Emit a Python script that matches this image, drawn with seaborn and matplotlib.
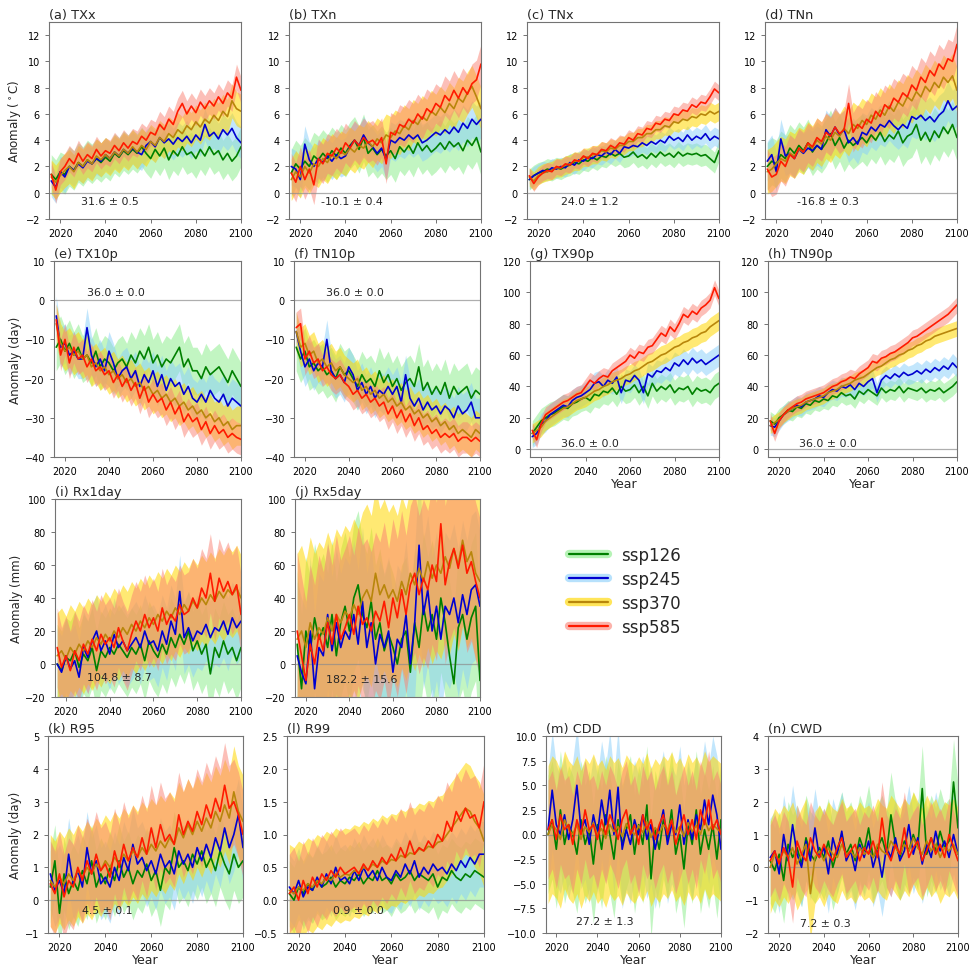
import matplotlib
matplotlib.use("Agg")
import matplotlib.pyplot as plt
from matplotlib.lines import Line2D
import numpy as np
import pandas as pd
import seaborn as sns

YEARS = list(range(2016, 2101, 2))
SCENARIOS = ["ssp126", "ssp245", "ssp370", "ssp585"]
LINE_COLORS = ["#008000", "#0000d0", "#b8860b", "#ff1a00"]
BAND_COLORS = ["#90ee90", "#87cefa", "#ffd700", "#fa8072"]
BAND_ALPHA = [0.55, 0.5, 0.55, 0.5]

# (a) TXx
TXX_126 = [1.4, 1.0, 1.6, 1.4, 2.0, 1.7, 2.3, 2.0, 2.5, 2.2, 2.6, 2.3, 2.7, 2.4, 3.0, 2.7, 3.2, 2.9, 3.3, 3.0, 3.5, 3.0,
           2.6, 3.3, 2.8, 3.4, 2.5, 3.2, 2.8, 3.5, 2.9, 3.1, 2.6, 3.3, 2.8, 3.5, 2.9, 3.2, 2.5, 3.0, 2.4, 2.8, 3.5]
TXX_245 = [0.9, 0.4, 1.6, 1.2, 2.0, 1.7, 2.2, 1.9, 2.4, 2.2, 2.6, 2.4, 2.9, 2.6, 3.1, 2.8, 3.3, 3.0, 3.4, 3.1, 2.9, 3.6,
           3.9, 3.5, 4.2, 3.8, 4.1, 3.7, 4.2, 3.9, 4.3, 3.8, 4.4, 4.0, 5.2, 4.3, 4.6, 4.1, 4.8, 4.4, 4.9, 4.2, 3.8]
TXX_370 = [1.2, 0.8, 1.3, 1.7, 2.0, 1.6, 2.3, 2.0, 2.5, 2.2, 2.8, 2.5, 2.9, 2.6, 3.1, 2.8, 3.3, 3.0, 3.5, 3.1, 3.6, 3.3,
           3.9, 3.6, 4.2, 3.9, 4.5, 4.2, 4.8, 4.5, 5.1, 4.8, 5.4, 5.0, 5.6, 5.3, 5.9, 5.5, 6.2, 5.8, 7.0, 6.4, 6.2]
TXX_585 = [1.4, 0.2, 1.6, 2.0, 2.6, 2.2, 3.0, 2.4, 2.9, 2.6, 3.3, 2.8, 3.2, 3.0, 3.6, 3.2, 3.8, 3.4, 3.9, 3.7, 4.3, 4.0,
           4.6, 4.4, 5.2, 4.8, 5.6, 5.2, 6.2, 6.8, 6.0, 6.6, 6.1, 6.9, 6.4, 7.0, 6.6, 7.3, 6.8, 7.6, 7.2, 8.8, 7.8]
TXX_SPREAD = [1.5, 1.2, 1.3, 1.0]

# (b) TXn
TXN_126 = [1.5, 2.2, 1.8, 2.4, 2.0, 2.8, 2.5, 3.0, 2.6, 3.2, 2.8, 3.4, 3.0, 3.6, 4.0, 3.3, 4.2, 3.0, 3.4, 2.9, 3.3, 2.8,
           3.2, 2.6, 3.5, 3.1, 3.6, 3.0, 3.8, 3.2, 3.6, 3.1, 3.4, 3.8, 3.3, 3.9, 3.5, 3.8, 3.2, 4.0, 3.6, 4.2, 3.1]
TXN_245 = [2.0, 1.8, 1.0, 3.7, 2.5, 2.0, 2.6, 2.3, 2.8, 2.4, 2.9, 2.6, 2.8, 3.5, 4.0, 3.6, 4.4, 3.8, 3.5, 3.0, 3.4, 2.5,
           4.0, 3.8, 4.2, 4.0, 4.4, 4.1, 4.4, 3.8, 4.0, 4.3, 4.6, 4.4, 4.8, 4.5, 5.0, 4.6, 5.3, 4.9, 5.6, 5.2, 5.6]
TXN_370 = [1.0, 1.6, 1.2, 2.0, 1.5, 2.2, 2.0, 2.6, 2.3, 2.9, 2.6, 3.1, 2.9, 3.4, 3.1, 3.6, 3.4, 3.9, 3.5, 4.1, 3.8, 4.4,
           4.2, 4.7, 4.5, 5.1, 4.8, 5.5, 5.2, 5.8, 5.5, 6.2, 5.9, 6.5, 6.1, 6.8, 6.4, 7.2, 6.9, 7.6, 8.1, 7.3, 6.4]
TXN_585 = [1.5, 0.8, 2.0, 1.0, 1.8, 0.6, 2.6, 2.2, 3.0, 2.8, 3.4, 3.0, 3.8, 3.4, 4.0, 3.6, 4.2, 3.8, 4.0, 3.6, 4.2, 2.2,
           4.6, 4.4, 5.2, 5.0, 5.6, 5.3, 6.0, 5.6, 6.4, 6.1, 6.8, 6.5, 7.4, 7.0, 7.8, 7.2, 8.0, 7.5, 8.3, 8.6, 9.8]
TXN_SPREAD = [1.8, 1.4, 1.6, 1.5]

# (c) TNx
TNX_126 = [1.0, 1.3, 1.5, 1.6, 1.8, 1.7, 1.9, 1.8, 2.0, 2.1, 2.3, 2.2, 2.5, 2.4, 2.7, 2.5, 2.8, 2.7, 3.0, 2.8, 3.0, 2.7,
           2.8, 3.1, 2.7, 2.9, 2.6, 3.0, 2.7, 3.1, 2.8, 3.0, 2.7, 3.1, 2.8, 3.0, 2.9, 3.0, 2.8, 2.9, 2.6, 2.3, 3.2]
TNX_245 = [1.0, 1.3, 1.5, 1.7, 1.6, 1.9, 1.8, 2.0, 1.9, 2.3, 2.1, 2.5, 2.4, 2.7, 2.6, 2.9, 2.8, 3.1, 2.9, 3.3, 3.0, 3.5,
           3.4, 3.6, 3.5, 3.8, 3.6, 3.9, 3.7, 4.0, 3.8, 4.3, 4.0, 4.2, 3.9, 4.4, 4.0, 4.3, 4.1, 4.5, 4.0, 4.3, 4.1]
TNX_370 = [1.2, 0.9, 1.3, 1.5, 1.6, 1.7, 1.9, 1.9, 2.1, 2.2, 2.4, 2.4, 2.7, 2.7, 2.9, 2.9, 3.2, 3.1, 3.4, 3.3, 3.6, 3.6,
           3.9, 3.9, 4.2, 4.2, 4.5, 4.5, 4.8, 4.8, 5.1, 5.0, 5.4, 5.3, 5.6, 5.5, 5.8, 5.7, 6.0, 5.9, 6.2, 6.0, 6.2]
TNX_585 = [1.3, 0.7, 1.2, 1.5, 1.7, 1.6, 2.0, 1.9, 2.2, 2.1, 2.5, 2.4, 2.8, 2.6, 3.0, 2.9, 3.3, 3.2, 3.6, 3.4, 3.8, 3.7,
           4.2, 4.0, 4.5, 4.4, 4.9, 4.8, 5.3, 5.2, 5.6, 5.5, 6.0, 5.9, 6.3, 6.2, 6.7, 6.5, 6.9, 6.8, 7.3, 7.9, 7.6]
TNX_SPREAD = [0.8, 0.7, 0.7, 0.6]

# (d) TNn
TNN_126 = [2.0, 2.4, 2.2, 2.9, 2.6, 3.4, 3.0, 3.6, 3.2, 3.8, 3.1, 3.6, 3.3, 3.8, 4.5, 3.6, 4.2, 3.4, 4.0, 3.6, 3.9, 4.2,
           3.8, 4.4, 4.0, 4.6, 3.9, 4.4, 4.1, 4.7, 3.8, 4.3, 4.5, 5.2, 4.0, 4.6, 3.9, 4.7, 4.2, 5.0, 4.5, 5.2, 4.2]
TNN_245 = [2.4, 2.9, 1.6, 4.1, 2.8, 3.0, 2.6, 3.3, 3.0, 3.4, 3.2, 3.6, 3.3, 4.8, 4.3, 5.0, 4.4, 4.8, 3.8, 4.2, 3.7, 4.6,
           4.4, 5.0, 4.7, 5.2, 5.0, 5.5, 5.1, 4.8, 5.2, 4.9, 5.8, 5.6, 5.9, 5.5, 5.8, 5.4, 5.9, 6.2, 7.0, 6.3, 6.6]
TNN_370 = [1.6, 1.8, 2.2, 2.6, 2.4, 3.0, 2.8, 3.3, 3.1, 3.7, 3.4, 4.0, 3.7, 4.3, 4.0, 4.6, 4.3, 4.9, 4.5, 5.2, 4.9, 5.5,
           5.2, 5.9, 5.6, 6.3, 5.9, 6.6, 6.2, 6.9, 6.6, 7.3, 7.0, 7.7, 7.3, 8.1, 7.7, 8.4, 8.0, 8.8, 8.4, 8.9, 7.8]
TNN_585 = [1.8, 1.2, 1.4, 2.4, 2.0, 2.9, 2.6, 3.4, 3.1, 3.8, 3.5, 4.2, 3.9, 4.6, 4.3, 5.0, 4.5, 4.8, 6.8, 4.6, 5.2, 4.9,
           5.6, 5.3, 6.2, 5.8, 6.7, 6.4, 7.2, 6.9, 7.6, 7.3, 8.2, 7.8, 8.8, 8.4, 9.3, 8.9, 9.8, 9.4, 10.2, 10.0, 11.3]
TNN_SPREAD = [1.8, 1.5, 1.7, 1.5]

# (e) TX10p
TX10P_126 = [-12, -10, -13, -11, -14, -12, -15, -14, -16, -13, -17, -15, -16, -18, -16, -15, -17, -14, -16, -13, -15, -12,
             -16, -14, -17, -15, -16, -14, -12, -17, -15, -18, -18, -20, -17, -19, -18, -17, -19, -21, -18, -20, -22]
TX10P_245 = [-4, -12, -11, -14, -13, -15, -15, -7, -14, -17, -15, -18, -13, -16, -20, -18, -17, -20, -18, -22, -19, -21,
             -18, -22, -19, -23, -20, -22, -21, -24, -22, -25, -26, -24, -26, -23, -25, -26, -24, -27, -25, -26, -27]
TX10P_370 = [-6, -11, -13, -12, -14, -13, -15, -14, -17, -16, -18, -17, -19, -18, -20, -19, -21, -20, -22, -21, -23, -22,
             -24, -23, -25, -24, -26, -25, -27, -26, -28, -27, -29, -28, -30, -29, -31, -30, -32, -31, -33, -32, -32]
TX10P_585 = [-5, -14, -10, -16, -12, -15, -14, -17, -15, -18, -17, -19, -18, -21, -19, -22, -20, -23, -21, -25, -22, -26,
             -24, -26, -25, -28, -26, -29, -27, -31, -29, -31, -30, -33, -31, -34, -32, -34, -33, -35, -34, -35, -35.5]
TX10P_SPREAD = [6, 5, 5, 4]

# (f) TN10p
TN10P_126 = [-12, -15, -13, -17, -16, -18, -17, -19, -18, -20, -17, -19, -18, -20, -22, -19, -21, -20, -22, -18, -21, -19,
             -22, -20, -23, -21, -20, -22, -17, -23, -21, -24, -22, -24, -21, -25, -22, -24, -23, -22, -25, -23, -24]
TN10P_245 = [-8, -13, -17, -15, -18, -16, -17, -10, -18, -20, -19, -21, -17, -19, -23, -21, -24, -22, -25, -23, -24, -22,
             -24, -22, -26, -19, -25, -27, -25, -28, -26, -28, -27, -29, -27, -28, -30, -27, -29, -28, -26, -30, -30]
TN10P_370 = [-8, -12, -11, -14, -13, -16, -15, -17, -16, -18, -17, -19, -20, -21, -20, -23, -22, -24, -23, -25, -24, -26,
             -25, -27, -26, -28, -27, -29, -28, -30, -29, -31, -30, -32, -31, -33, -32, -34, -33, -34, -35, -33, -34]
TN10P_585 = [-7, -6, -15, -13, -16, -15, -18, -17, -19, -20, -19, -21, -22, -24, -23, -25, -24, -26, -25, -27, -26, -29,
             -27, -30, -28, -31, -29, -32, -30, -33, -32, -34, -33, -35, -34, -35, -34, -36, -35, -35, -36, -35, -36]
TN10P_SPREAD = [6, 5, 5, 4]

# (g) TX90p
TX90P_126 = [10, 14, 18, 20, 22, 23, 25, 27, 26, 29, 30, 32, 33, 31, 35, 34, 37, 36, 39, 35, 40, 37,
             38, 41, 36, 40, 34, 42, 37, 40, 38, 41, 36, 39, 38, 40, 35, 39, 37, 38, 36, 40, 42]
TX90P_245 = [8, 10, 16, 18, 22, 24, 26, 28, 27, 31, 33, 34, 36, 38, 42, 43, 40, 44, 42, 46, 36, 44,
             43, 47, 44, 36, 48, 46, 50, 49, 52, 50, 55, 53, 57, 54, 58, 55, 57, 54, 56, 58, 60]
TX90P_370 = [10, 12, 14, 18, 20, 22, 24, 26, 27, 29, 31, 32, 33, 35, 37, 38, 40, 41, 43, 44, 45, 47,
             48, 50, 51, 53, 55, 56, 58, 60, 61, 63, 65, 66, 68, 69, 71, 72, 74, 75, 78, 80, 82]
TX90P_585 = [12, 6, 16, 22, 24, 26, 28, 30, 31, 33, 35, 36, 40, 44, 42, 45, 47, 46, 50, 52, 54, 56,
             60, 58, 62, 61, 65, 66, 70, 74, 72, 78, 75, 80, 86, 84, 88, 86, 90, 92, 95, 103, 96]
TX90P_SPREAD = [8, 7, 6, 5]

# (h) TN90p
TN90P_126 = [18, 16, 20, 22, 25, 24, 27, 26, 29, 28, 31, 30, 32, 31, 34, 33, 36, 34, 35, 32, 37, 35,
             38, 36, 34, 39, 36, 38, 37, 40, 36, 39, 38, 37, 39, 36, 38, 37, 39, 36, 38, 40, 43]
TN90P_245 = [15, 14, 18, 22, 24, 26, 28, 27, 30, 31, 32, 34, 33, 36, 38, 37, 40, 39, 41, 38, 42, 40,
             43, 45, 36, 44, 47, 45, 48, 46, 49, 47, 48, 50, 48, 51, 49, 52, 50, 53, 51, 55, 52]
TN90P_370 = [15, 17, 19, 22, 24, 26, 27, 28, 30, 31, 32, 33, 34, 36, 37, 38, 40, 41, 42, 44, 45, 46,
             48, 50, 52, 53, 55, 57, 58, 60, 61, 63, 64, 66, 67, 69, 70, 72, 73, 74, 75, 76, 77]
TN90P_585 = [18, 10, 18, 22, 25, 27, 29, 30, 32, 33, 34, 35, 36, 38, 40, 41, 43, 44, 46, 45, 48, 50,
             52, 56, 55, 58, 59, 61, 62, 64, 66, 68, 71, 72, 74, 76, 78, 80, 82, 84, 86, 89, 92]
TN90P_SPREAD = [6, 6, 5, 5]

# (i) Rx1day
RX1_126 = [0, -4, 4, 2, 8, -2, 6, 2, 10, -4, 8, 4, 10, 6, 12, 8, 4, 10, 6, 12, 2, 14,
           8, 4, 12, 6, 16, 10, 18, 12, 20, 8, 14, 6, 12, -6, 10, 4, 14, 6, 10, 2, 10]
RX1_245 = [0, -5, 5, -3, 2, -8, 10, 4, 14, 20, 8, 14, 6, 18, 10, 14, 8, 12, 16, 10, 20, 12,
           14, 8, 20, 12, 26, 18, 44, 16, 22, 14, 20, 18, 24, 16, 22, 20, 26, 18, 28, 22, 26]
RX1_370 = [5, 8, 3, 10, 6, 12, 8, 14, 10, 16, 12, 18, 14, 20, 16, 22, 18, 24, 20, 26, 22, 28,
           24, 30, 26, 32, 28, 34, 30, 36, 32, 38, 34, 40, 36, 42, 38, 44, 40, 45, 42, 46, 40]
RX1_585 = [10, -2, 5, -4, 8, 2, 12, 6, 15, 8, 18, 12, 16, 10, 22, 14, 8, 18, 26, 20, 30, 22,
           28, 20, 34, 24, 30, 26, 36, 30, 32, 40, 34, 46, 40, 55, 38, 52, 44, 50, 42, 48, 30]
RX1_SPREAD = [24, 22, 26, 24]

# (j) Rx5day
RX5_126 = [12, -15, 20, 8, 28, 15, 22, 10, 30, 5, 25, 35, 20, 40, 48, 30, 22, 38, 15, 25, 8, 18,
           10, 0, 15, 20, -5, 25, 10, 35, 20, 30, 15, 40, 25, 5, -12, 22, 30, 15, 28, 35, -10]
RX5_245 = [5, -5, -12, 20, -15, 10, 5, 30, 8, 25, 10, 20, 15, 30, 12, 38, 10, 25, 0, 18, 10, 20,
           -5, 15, 10, 30, 0, 25, 72, 30, 45, 20, 35, 15, 35, 30, 40, 25, 42, 30, 45, 48, 35]
RX5_370 = [15, 20, 10, 25, 15, 22, 18, 28, 20, 30, 25, 32, 28, 36, 30, 40, 45, 38, 55, 42, 48, 40,
           45, 38, 50, 42, 55, 48, 58, 50, 62, 52, 60, 55, 65, 58, 70, 60, 75, 62, 68, 55, 50]
RX5_585 = [20, 5, -10, 12, 0, 18, 8, 25, 12, 30, 15, 22, 30, 18, 35, 24, 28, 20, 32, 26, 38, 22,
           40, 28, 45, 30, 48, 55, 42, 52, 45, 60, 50, 85, 48, 62, 70, 58, 72, 55, 62, 50, 40]
RX5_SPREAD = [45, 45, 52, 48]

# (k) R95
R95_126 = [0.4, 1.2, -0.4, 0.8, 0.2, 0.6, 0.3, 0.9, 0.5, 1.2, 0.4, 0.8, 0.5, 1.0, 0.6, 1.2, 0.7, 1.0, 0.5, 0.9, 0.7, 1.1,
           0.6, 0.9, 0.3, 1.0, 0.8, 1.6, 1.0, 1.2, 0.9, 1.4, 1.1, 1.5, 1.0, 1.3, 0.9, 1.5, 1.1, 0.8, 1.4, 1.0, 1.2]
R95_245 = [0.8, 0.3, 0.6, 0.2, 1.4, 0.5, 0.9, 0.4, 1.6, 0.8, 1.2, 0.5, 0.7, 0.4, 1.0, 0.6, 1.3, 0.9, 1.7, 1.1, 1.3, 0.9,
           1.2, 0.8, 1.4, 1.0, 1.2, 0.8, 1.5, 1.1, 1.4, 1.0, 1.6, 1.2, 1.7, 1.3, 1.9, 1.5, 2.2, 1.6, 2.0, 2.6, 1.6]
R95_370 = [0.6, 0.4, 0.7, 0.5, 0.8, 0.6, 0.9, 0.7, 1.0, 0.8, 1.1, 0.9, 1.2, 1.0, 1.3, 1.1, 1.4, 1.2, 1.5, 1.3, 1.6, 1.4,
           1.7, 1.5, 1.8, 1.6, 1.9, 1.7, 2.2, 1.9, 2.3, 2.0, 2.4, 2.1, 2.5, 2.2, 2.7, 2.4, 2.9, 2.5, 3.3, 2.7, 2.4]
R95_585 = [0.5, 0.2, 0.8, 0.1, 0.6, 0.4, 1.0, 0.6, 1.2, 0.8, 1.4, 0.9, 1.1, 0.7, 1.5, 1.0, 1.7, 1.2, 1.6, 1.3, 1.9, 1.4,
           2.2, 1.6, 2.3, 1.8, 2.0, 1.7, 2.6, 2.0, 2.4, 2.1, 2.7, 2.3, 2.9, 2.5, 3.1, 2.7, 3.5, 2.8, 3.0, 2.6, 2.0]
R95_SPREAD = [1.1, 1.1, 1.4, 1.3]

# (l) R99
R99_126 = [0.1, 0.0, 0.2, 0.1, 0.25, 0.15, 0.3, 0.2, 0.25, 0.35, 0.2, 0.3, 0.25, 0.35, 0.3, 0.4, 0.25, 0.35, 0.3, 0.45,
           0.3, 0.35, 0.25, 0.4, 0.3, 0.35, 0.45, 0.3, 0.4, 0.35, 0.3, 0.4, 0.2, 0.35, 0.3, 0.45, 0.35, 0.3, 0.4, 0.35,
           0.45, 0.4, 0.35]
R99_245 = [0.2, 0.1, 0.3, 0.05, 0.2, 0.15, 0.35, 0.2, 0.4, 0.25, 0.5, 0.3, 0.35, 0.25, 0.45, 0.3, 0.5, 0.35, 0.45, 0.3,
           0.5, 0.35, 0.3, 0.45, 0.35, 0.55, 0.4, 0.6, 0.35, 0.5, 0.4, 0.55, 0.45, 0.5, 0.4, 0.55, 0.45, 0.6, 0.5, 0.65,
           0.55, 0.7, 0.7]
R99_370 = [0.15, 0.1, 0.2, 0.15, 0.25, 0.2, 0.3, 0.25, 0.35, 0.3, 0.4, 0.35, 0.4, 0.38, 0.45, 0.42, 0.5, 0.46, 0.55,
           0.5, 0.6, 0.55, 0.62, 0.6, 0.68, 0.65, 0.72, 0.7, 0.78, 0.75, 0.82, 0.8, 0.88, 0.9, 1.0, 1.1, 1.2, 1.3, 1.4,
           1.35, 1.2, 1.1, 0.9]
R99_585 = [0.1, 0.2, 0.0, 0.3, 0.1, 0.35, 0.2, 0.4, 0.3, 0.45, 0.35, 0.5, 0.4, 0.45, 0.5, 0.4, 0.55, 0.45, 0.6, 0.5,
           0.65, 0.55, 0.7, 0.6, 0.8, 0.65, 0.9, 0.7, 0.8, 0.75, 0.9, 0.8, 1.0, 0.9, 1.2, 1.05, 1.35, 1.2, 1.4, 1.25,
           1.3, 1.1, 1.5]
R99_SPREAD = [0.5, 0.5, 0.7, 0.6]

# (m) CDD
CDD_126 = [0.0, 1.5, -1.5, 2.5, -1.0, 1.0, 0.0, -2.0, 1.5, -1.0, 0.5, -3.0, 1.0, -1.5, 2.0, 0.0, -2.5, 1.5, -1.0, 0.5,
           2.0, -2.0, 1.0, -1.0, 3.0, -4.5, 0.5, -1.5, 1.5, -0.5, 2.5, -2.0, 0.0, -3.5, 1.0, -1.0, 2.5, -2.0, 0.5, -1.5,
           1.0, -2.5, 1.5]
CDD_245 = [0.5, 4.5, 1.0, 0.0, 2.0, -0.5, 1.5, 5.0, 0.5, 1.5, -1.0, 2.0, 0.0, 3.5, 1.0, 4.5, 0.0, 4.8, -1.5, 0.5, -1.0,
           1.5, 0.0, 2.0, -0.5, 1.0, -1.5, 0.5, 2.5, -1.0, 1.0, 0.0, 3.0, -1.0, 1.5, -0.5, 2.0, 0.5, 3.5, 1.0, 4.0, 2.0,
           -1.5]
CDD_370 = [0.0, 1.0, 0.5, -0.5, 1.5, 0.5, 0.0, 1.0, -0.5, 0.8, 0.2, 1.2, 0.0, 0.6, -0.4, 1.0, 0.3, 0.8, -0.2, 1.1, 0.4,
           0.0, 0.9, 0.2, 1.3, -0.3, 0.7, 0.1, 1.0, 0.5, 1.4, 0.2, 0.8, -0.2, 1.2, 0.3, 0.9, 0.0, 1.5, 0.4, 1.0, 0.6, 0.2]
CDD_585 = [0.5, 1.5, -0.5, 2.0, 0.5, 1.0, -1.0, 1.5, 0.0, 2.5, 0.5, 1.0, -0.5, 1.5, 0.0, 2.0, 1.0, -0.5, 1.5, 2.5, 0.0,
           1.0, -1.0, 2.0, 0.5, 1.5, -0.5, 1.0, 2.0, 0.0, 1.5, -1.0, 0.5, 2.0, 0.0, 1.5, -0.5, 2.5, 1.0, 3.5, 0.5, 1.5,
           0.0]
CDD_SPREAD = [6, 6, 7, 5]

# (n) CWD
CWD_126 = [0.2, -0.1, 0.4, -0.4, 0.7, 0.3, 0.6, 0.1, 0.9, 0.4, 0.2, 0.6, 0.3, 0.8, 0.0, 0.5, 1.0, 0.4, 0.7, 0.2, 0.9,
           0.5, 1.2, 0.3, 0.6, 0.9, 0.4, 1.6, 0.7, 0.3, 0.8, 0.5, 1.0, 0.6, 2.4, 0.4, 0.9, 0.5, 1.1, 0.6, 0.8, 2.6, 1.2]
CWD_245 = [0.3, 0.5, -0.2, 1.0, 0.2, 1.3, 0.4, 0.0, 0.8, 0.2, 1.2, 0.3, 0.6, -0.2, 0.9, 0.4, 1.1, 0.2, 0.5, -0.1, 0.7,
           0.3, 0.8, 0.0, 0.5, -0.3, 0.6, 0.3, 0.9, 0.2, 0.5, 1.3, 0.4, 0.9, 0.1, 0.7, 0.3, 1.1, 0.5, 0.8, 0.3, 1.0, 0.4]
CWD_370 = [0.0, 0.4, 0.2, 0.5, 0.3, 0.6, 0.1, 0.4, 0.7, -0.8, 0.3, 0.5, 0.2, 0.6, 0.4, 0.3, 0.7, 0.4, 0.5, 0.3, 0.6,
           0.4, 0.5, 0.3, 0.7, 0.5, 0.4, 0.8, 0.6, 0.4, 0.7, 0.5, 0.9, 0.6, 0.4, 0.8, 0.5, 0.7, 0.3, 0.6, 0.5, 0.7, 0.4]
CWD_585 = [0.2, 0.5, 0.1, 0.6, 0.3, -0.6, 0.8, 0.4, 0.2, 0.9, 0.5, 0.3, 0.7, 0.4, 0.2, 0.6, 0.9, 0.3, 0.5, 0.7, 0.2,
           0.6, 0.4, 0.8, 0.3, 1.5, 0.5, 0.2, 0.7, 0.4, 1.2, 0.3, 0.6, 0.8, 0.2, 0.5, 0.9, 0.4, 0.7, 0.3, 1.0, 0.6, 0.2]
CWD_SPREAD = [1.3, 1.2, 1.4, 1.1]

# label, series, spreads, ylim, yticks, ylabel, xlabel, note, note position, box (px: left, top, right, bottom)
PANELS = [
    ("(a) TXx", [TXX_126, TXX_245, TXX_370, TXX_585], TXX_SPREAD, (-2, 13), np.arange(-2, 13, 2),
     "Anomaly ($^\\circ$C)", "", "31.6 ± 0.5", (2042, -0.65), (49, 23, 241, 220)),
    ("(b) TXn", [TXN_126, TXN_245, TXN_370, TXN_585], TXN_SPREAD, (-2, 13), np.arange(-2, 13, 2),
     "", "", "-10.1 ± 0.4", (2043, -0.65), (289, 23, 481, 220)),
    ("(c) TNx", [TNX_126, TNX_245, TNX_370, TNX_585], TNX_SPREAD, (-2, 13), np.arange(-2, 13, 2),
     "", "", "24.0 ± 1.2", (2043, -0.65), (527, 23, 719, 220)),
    ("(d) TNn", [TNN_126, TNN_245, TNN_370, TNN_585], TNN_SPREAD, (-2, 13), np.arange(-2, 13, 2),
     "", "", "-16.8 ± 0.3", (2043, -0.65), (765, 23, 957, 220)),
    ("(e) TX10p", [TX10P_126, TX10P_245, TX10P_370, TX10P_585], TX10P_SPREAD, (-40, 10), np.arange(-40, 11, 10),
     "Anomaly (day)", "", "36.0 ± 0.0", (2043, 2.2), (54, 262, 241, 458)),
    ("(f) TN10p", [TN10P_126, TN10P_245, TN10P_370, TN10P_585], TN10P_SPREAD, (-40, 10), np.arange(-40, 11, 10),
     "", "", "36.0 ± 0.0", (2043, 2.2), (294, 262, 480, 458)),
    ("(g) TX90p", [TX90P_126, TX90P_245, TX90P_370, TX90P_585], TX90P_SPREAD, (-5, 120), np.arange(0, 121, 20),
     "", "Year", "36.0 ± 0.0", (2042, 4), (530, 262, 719, 458)),
    ("(h) TN90p", [TN90P_126, TN90P_245, TN90P_370, TN90P_585], TN90P_SPREAD, (-5, 120), np.arange(0, 121, 20),
     "", "Year", "36.0 ± 0.0", (2042, 4), (768, 262, 957, 458)),
    ("(i) Rx1day", [RX1_126, RX1_245, RX1_370, RX1_585], RX1_SPREAD, (-20, 100), np.arange(-20, 101, 20),
     "Anomaly (mm)", "", "104.8 ± 8.7", (2044.5, -8), (55, 500, 241, 698)),
    ("(j) Rx5day", [RX5_126, RX5_245, RX5_370, RX5_585], RX5_SPREAD, (-20, 100), np.arange(-20, 101, 20),
     "", "", "182.2 ± 15.6", (2045.5, -9), (295, 500, 480, 698)),
    ("(k) R95", [R95_126, R95_245, R95_370, R95_585], R95_SPREAD, (-1, 5), np.arange(-1, 5.1, 1),
     "Anomaly (day)", "Year", "4.5 ± 0.1", (2041, -0.3), (48, 737, 243, 934)),
    ("(l) R99", [R99_126, R99_245, R99_370, R99_585], R99_SPREAD, (-0.5, 2.5), np.arange(-0.5, 2.51, 0.5),
     "", "Year", "0.9 ± 0.0", (2046, -0.15), (287, 737, 484, 934)),
    ("(m) CDD", [CDD_126, CDD_245, CDD_370, CDD_585], CDD_SPREAD, (-10, 10), np.arange(-10, 10.1, 2.5),
     "", "Year", "27.2 ± 1.3", (2043.5, -8.8), (546, 737, 721, 934)),
    ("(n) CWD", [CWD_126, CWD_245, CWD_370, CWD_585], CWD_SPREAD, (-2, 4), np.arange(-2, 4.1, 1),
     "", "Year", "7.2 ± 0.3", (2040.5, -1.7), (768, 737, 958, 934)),
]

sns.set_style("ticks")
plt.rcParams["font.family"] = ["DejaVu Sans"]
plt.rcParams["axes.edgecolor"] = "0.45"
plt.rcParams["xtick.color"] = "0.45"
plt.rcParams["ytick.color"] = "0.45"
plt.rcParams["xtick.labelcolor"] = "black"
plt.rcParams["ytick.labelcolor"] = "black"

W, H = 974, 970
fig = plt.figure(figsize=(W / 100, H / 100), dpi=100)

for label, series, spreads, ylim, yticks, ylabel, xlabel, note, note_xy, box in PANELS:
    l, t, r, b = box
    ax = fig.add_axes([l / W, 1 - b / H, (r - l) / W, (b - t) / H])

    rows = []
    for scen, vals in zip(SCENARIOS, series):
        for yr, v in zip(YEARS, vals):
            rows.append({"year": yr, "value": v, "scenario": scen})
    df = pd.DataFrame(rows)

    # shaded spread bands first, then the mean lines on top
    for k, scen in enumerate(SCENARIOS):
        sub = df[df["scenario"] == scen]
        ax.fill_between(sub["year"], sub["value"] - spreads[k], sub["value"] + spreads[k],
                        color=BAND_COLORS[k], alpha=BAND_ALPHA[k], lw=0)

    ax.axhline(0, color="0.55", lw=0.9, alpha=0.7, zorder=1.5)
    sns.lineplot(data=df, x="year", y="value", hue="scenario", hue_order=SCENARIOS,
                 palette=dict(zip(SCENARIOS, LINE_COLORS)), legend=False, ax=ax, lw=1.2)

    ax.set_xlim(2015, 2100)
    ax.set_xticks([2020, 2040, 2060, 2080, 2100])
    ax.set_ylim(*ylim)
    ax.set_yticks(yticks)
    ax.tick_params(labelsize=7, length=3, width=0.7)
    ax.set_title(label, loc="left", fontsize=9.3, pad=3)
    ax.set_ylabel(ylabel, fontsize=8.6, labelpad=2)
    ax.set_xlabel(xlabel, fontsize=9, labelpad=1)
    ax.text(note_xy[0], note_xy[1], note, ha="center", va="center", fontsize=7.9)
    for sp in ax.spines.values():
        sp.set_linewidth(0.8)

handles = []
for k in range(4):
    handles.append((Line2D([], [], color=BAND_COLORS[k], alpha=BAND_ALPHA[k] + 0.1, lw=6),
                    Line2D([], [], color=LINE_COLORS[k], lw=1.6)))
fig.legend(handles, SCENARIOS, loc="center", bbox_to_anchor=(625 / W, 1 - 592 / H),
           frameon=False, fontsize=12, handlelength=2.3, handletextpad=0.8, labelspacing=0.35)

fig.savefig("out.png", dpi=100)
